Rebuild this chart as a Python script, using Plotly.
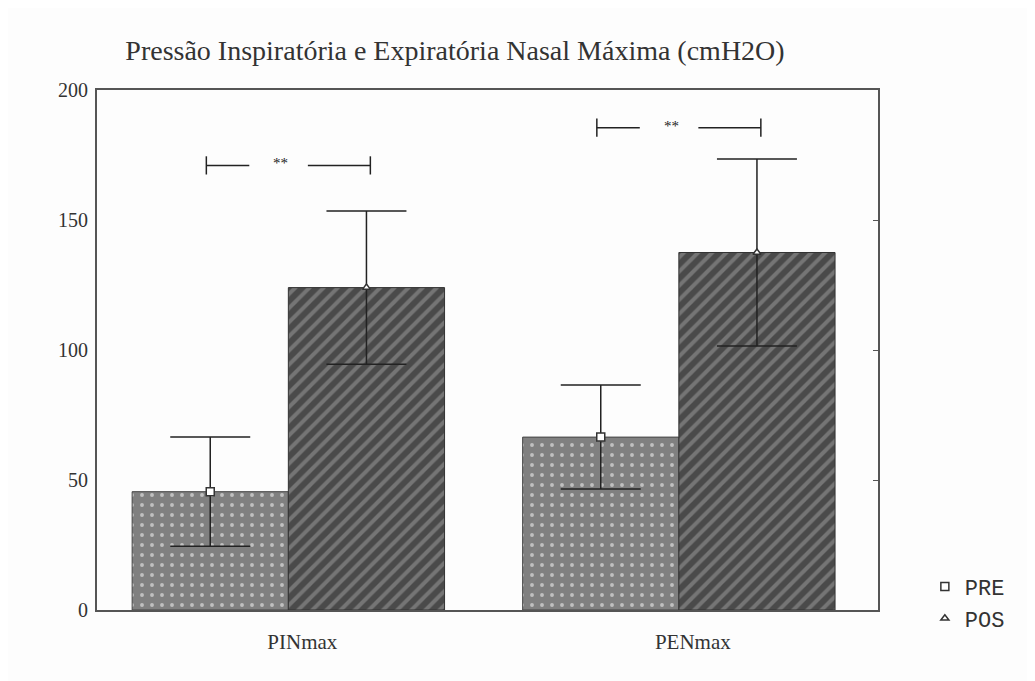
import plotly.graph_objects as go

categories = ["PINmax", "PENmax"]
pre_mean = [45.5, 66.5]
pre_sd = [21, 20]
pos_mean = [124, 137.5]
pos_sd = [29.5, 36]
sig_y = [171, 185.5]
sig_text = ["**", "**"]
y_ticks = [0, 50, 100, 150, 200]

idx = list(range(len(categories)))
W = 0.4
pre_x = [i - W / 2 for i in idx]
pos_x = [i + W / 2 for i in idx]

fig = go.Figure()
fig.add_trace(go.Bar(
    x=idx, y=pre_mean, width=W, offset=-W, showlegend=False,
    marker=dict(color="#8a8a8a", line=dict(color="#444", width=1),
                pattern=dict(shape=".", fgcolor="white", bgcolor="#808080",
                             size=10, solidity=0.12)),
))
fig.add_trace(go.Bar(
    x=idx, y=pos_mean, width=W, offset=0, showlegend=False,
    marker=dict(color="#555", line=dict(color="#333", width=1),
                pattern=dict(shape="/", fgcolor="#a0a0a0", bgcolor="#4a4a4a",
                             size=10, solidity=0.4)),
))
fig.add_trace(go.Scatter(
    x=pre_x, y=pre_mean, mode="markers", name="PRE",
    marker=dict(symbol="square", size=8, color="white", line=dict(color="#333", width=1.5)),
    error_y=dict(type="data", array=pre_sd, color="#222", thickness=1.5, width=40),
))
fig.add_trace(go.Scatter(
    x=pos_x, y=pos_mean, mode="markers", name="POS",
    marker=dict(symbol="triangle-up", size=7, color="white", line=dict(color="#333", width=1.5)),
    error_y=dict(type="data", array=pos_sd, color="#222", thickness=1.5, width=40),
))

# significance brackets
for i, yv, t in zip(idx, sig_y, sig_text):
    x0, x1 = i - W / 2 - 0.01, i + W / 2 + 0.01
    xm = i - 0.02
    for a, b in [(x0, xm - 0.08), (xm + 0.07, x1)]:
        fig.add_shape(type="line", x0=a, x1=b, y0=yv, y1=yv, line=dict(color="#222", width=1.5))
    for xe in (x0, x1):
        fig.add_shape(type="line", x0=xe, x1=xe, y0=yv - 3.5, y1=yv + 3.5, line=dict(color="#222", width=1.5))
    fig.add_annotation(x=xm, y=yv, text=t, showarrow=False, yshift=2,
                       font=dict(family="Liberation Serif", size=15, color="#222222"))

fig.add_trace(go.Scatter(x=[None], y=[None], yaxis="y2", showlegend=False))

fig.update_layout(
    width=1035, height=681,
    margin=dict(l=89, r=165, t=82, b=79),
    paper_bgcolor="#fdfdfd", plot_bgcolor="#fdfdfd",
    title=dict(text="Pressão Inspiratória e Expiratória Nasal Máxima (cmH2O)",
               x=(455 - 8) / 1035, xanchor="center", y=1 - (50 - 8) / 681, yanchor="middle",
               font=dict(family="Liberation Serif", size=28, color="#333")),
    xaxis=dict(range=[-0.49, 1.51], tickvals=idx, ticktext=categories,
               showgrid=False, zeroline=False, showline=True, linecolor="#555",
               linewidth=2, mirror=True, ticks="", ticklabelstandoff=12,
               ticklabelshift=14,
               tickfont=dict(family="Liberation Serif", size=21, color="#333")),
    yaxis=dict(range=[0, 200], tickvals=y_ticks, showgrid=False, zeroline=False,
               showline=True, linecolor="#555", linewidth=2, mirror=True, ticks="",
               ticklabelstandoff=3,
               tickfont=dict(family="Liberation Serif", size=20, color="#333")),
    yaxis2=dict(range=[0, 200], overlaying="y", side="right", tickvals=y_ticks[1:4],
                ticks="inside", ticklen=5, tickcolor="#555", showticklabels=False,
                showgrid=False, zeroline=False, showline=False),
    legend=dict(x=1.06, y=0.085, xanchor="left", yanchor="top",
                bgcolor="rgba(0,0,0,0)", tracegroupgap=8, itemwidth=30,
                font=dict(family="Liberation Mono", size=22, color="#333")),
    showlegend=True,
)

fig.write_html("out.html")
